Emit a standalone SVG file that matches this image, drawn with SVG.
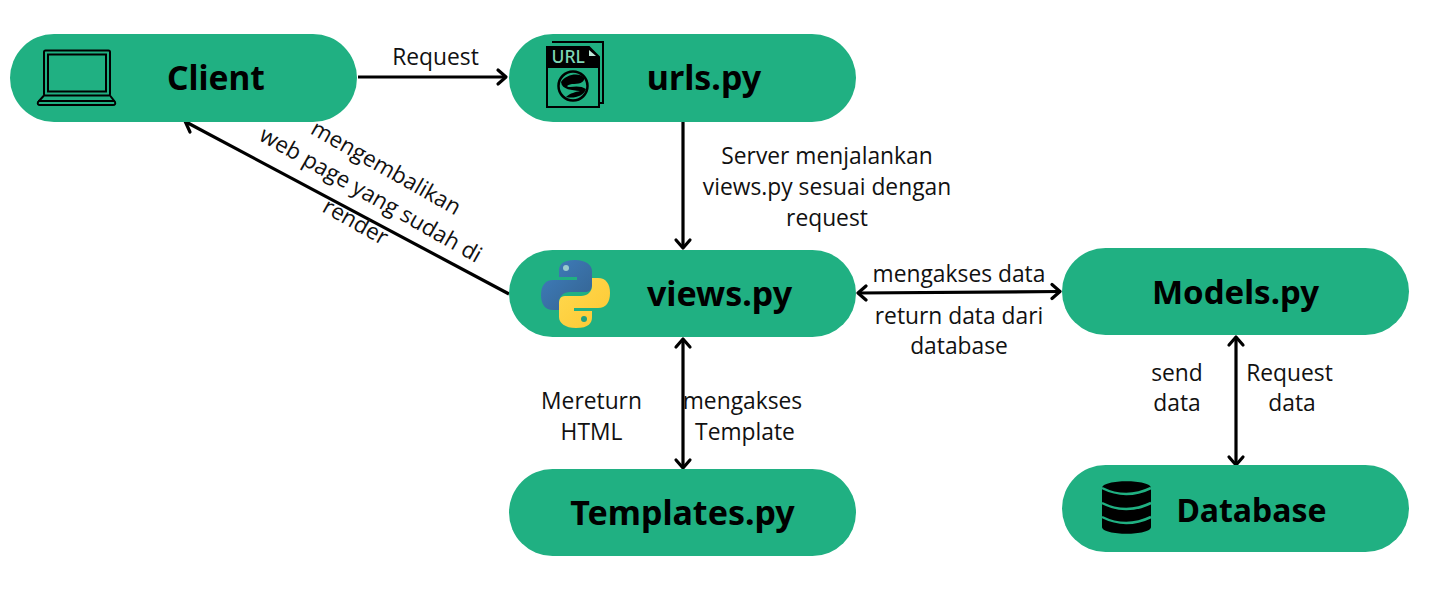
<svg xmlns="http://www.w3.org/2000/svg" width="1455" height="598" viewBox="0 0 1455 598">
<style>
.n{fill:#20b082}
.t{font-family:"Noto Sans",sans-serif;font-weight:700;font-size:34px;fill:#000;text-anchor:middle}
.l{font-family:"Open Sans",sans-serif;font-size:22.800px;fill:#111;text-anchor:middle}
.r{font-size:22.400px}
.c{fill:none;stroke:#000;stroke-width:3.200}
.a{fill:none;stroke:#000;stroke-width:3.200;stroke-linecap:round;stroke-linejoin:round}
.i{fill:none;stroke:#000;stroke-width:2}
</style>
<defs>
<linearGradient id="pb" x1="0" y1="0" x2="1" y2="1"><stop offset="0" stop-color="#3f7fbf"/><stop offset="1" stop-color="#34628f"/></linearGradient>
<linearGradient id="py" x1="0" y1="0" x2="1" y2="1"><stop offset="0" stop-color="#ffd94f"/><stop offset="1" stop-color="#fdc833"/></linearGradient>
</defs>
<rect width="1455" height="598" fill="#fff"/>
<g id="connectors">
<path class="c" d="M358 77H506"/><path class="a" d="M498 70l8 7l-8 7"/>
<path class="c" d="M683 122V247"/><path class="a" d="M676 240l7 8l7-8"/>
<path class="c" d="M509 294L186 122"/><path class="a" d="M197 120l-12 1l5 11"/>
<path class="c" d="M859 293L1060 291.500"/><path class="a" d="M866 286l-8 7l8 7M1052 284.500l8 7l-8 7"/>
<path class="c" d="M683 340V467"/><path class="a" d="M676 347l7-8l7 8M676 460l7 8l7-8"/>
<path class="c" d="M1236 338V464"/><path class="a" d="M1229 345l7-8l7 8M1229 457l7 8l7-8"/>
</g>
<g id="client"><rect class="n" x="10" y="34" width="347" height="88" rx="44"/>
<rect class="i" x="44" y="50.500" width="66" height="45" rx="1.500"/><rect class="i" x="48" y="54.500" width="58" height="37"/>
<path class="i" d="M44 95.500L38 102Q37 105 40 105H113Q116 105 115 102L110 95.500M38 101H115"/>
<text class="t" x="216" y="90" style="font-size:33.500px">Client</text></g>
<g id="urls"><rect class="n" x="509" y="34" width="347" height="88" rx="44"/>
<path class="i" d="M552 42H603V103H599"/>
<path d="M547 47H589L599 57V107H547Z" fill="#20b082" stroke="#000" stroke-width="2"/>
<path d="M547 47H589L599 57V68H547Z" fill="#000"/><path d="M589 50V56H596Z" fill="#bfe8d8"/>
<text x="551.500" y="63" font-family="Noto Sans,sans-serif" font-size="17.500" font-weight="500" fill="#7fd6b5">URL</text>
<circle cx="573" cy="86" r="14.500" fill="none" stroke="#000" stroke-width="2.500"/>
<path d="M561 82C566 74 580 72 584 78C585 83 578 84 572 84C566 85 566 87 570 87C576 86 582 86 586 89C584 96 574 99 566 97C570 93 576 92 580 91C572 90 562 90 561 82Z" fill="#000"/>
<text class="t" x="704" y="90">urls.py</text></g>
<g id="views"><rect class="n" x="509" y="250" width="347" height="87" rx="43.500"/>
<path fill="url(#pb)" d="M575 260C562 260 559 265 559 271V277H577V280H553C545 280 541 286 541 295C541 304 545 310 553 310H559V302C559 296 564 292 570 292H586C591 292 592 288 592 284V271C592 265 586 260 575 260Z"/>
<path fill="url(#py)" d="M576 328C589 328 592 323 592 317V311H574V308H598C606 308 610 302 610 293C610 284 606 278 598 278H592V286C592 292 587 296 581 296H565C560 296 559 300 559 304V317C559 323 565 328 576 328Z"/>
<circle cx="566" cy="268" r="3" fill="#9cc"/><circle cx="584" cy="319" r="3" fill="#21a080"/>
<text class="t" x="719.500" y="306">views.py</text></g>
<g id="templates"><rect class="n" x="509" y="469" width="347" height="87" rx="43.500"/>
<text class="t" x="682.500" y="525">Templates.py</text></g>
<g id="models"><rect class="n" x="1062" y="248" width="347" height="87" rx="43.500"/>
<text class="t" x="1235.500" y="304" style="font-size:33px">Models.py</text></g>
<g id="database"><rect class="n" x="1062" y="465" width="347" height="87" rx="43.500"/>
<path d="M1102 488C1102 479 1151 479 1151 488V527C1151 536 1102 536 1102 527Z" fill="#000"/>
<path d="M1102 488Q1126 500 1151 488M1102 503Q1126 515 1151 503M1102 517Q1126 529 1151 517" fill="none" stroke="#20b082" stroke-width="2.500"/>
<text class="t" x="1251.500" y="522" style="font-size:32px">Database</text></g>
<g id="labels">
<text class="l" x="435.500" y="64.500">Request</text>
<text class="l" x="827" y="163.500">Server menjalankan</text>
<text class="l" x="827" y="194.500">views.py sesuai dengan</text>
<text class="l" x="827" y="225.500">request</text>
<g transform="translate(354 194) rotate(29.500)">
<text class="l r" x="15" y="-31">mengembalikan</text>
<text class="l r" x="15" y="0">web page yang sudah di</text>
<text class="l r" x="15" y="31">render</text></g>
<text class="l" x="959" y="281.500">mengakses data</text>
<text class="l" x="959" y="323.500">return data dari</text>
<text class="l" x="959" y="353.500">database</text>
<text class="l" x="591.500" y="408.500">Mereturn</text>
<text class="l" x="591.500" y="439.500">HTML</text>
<text class="l" x="742.500" y="408.500">mengakses</text>
<text class="l" x="745" y="439.500">Template</text>
<text class="l" x="1177" y="380.500">send</text>
<text class="l" x="1177" y="410.500">data</text>
<text class="l" x="1289.500" y="380.500">Request</text>
<text class="l" x="1292" y="410.500">data</text>
</g>
</svg>
